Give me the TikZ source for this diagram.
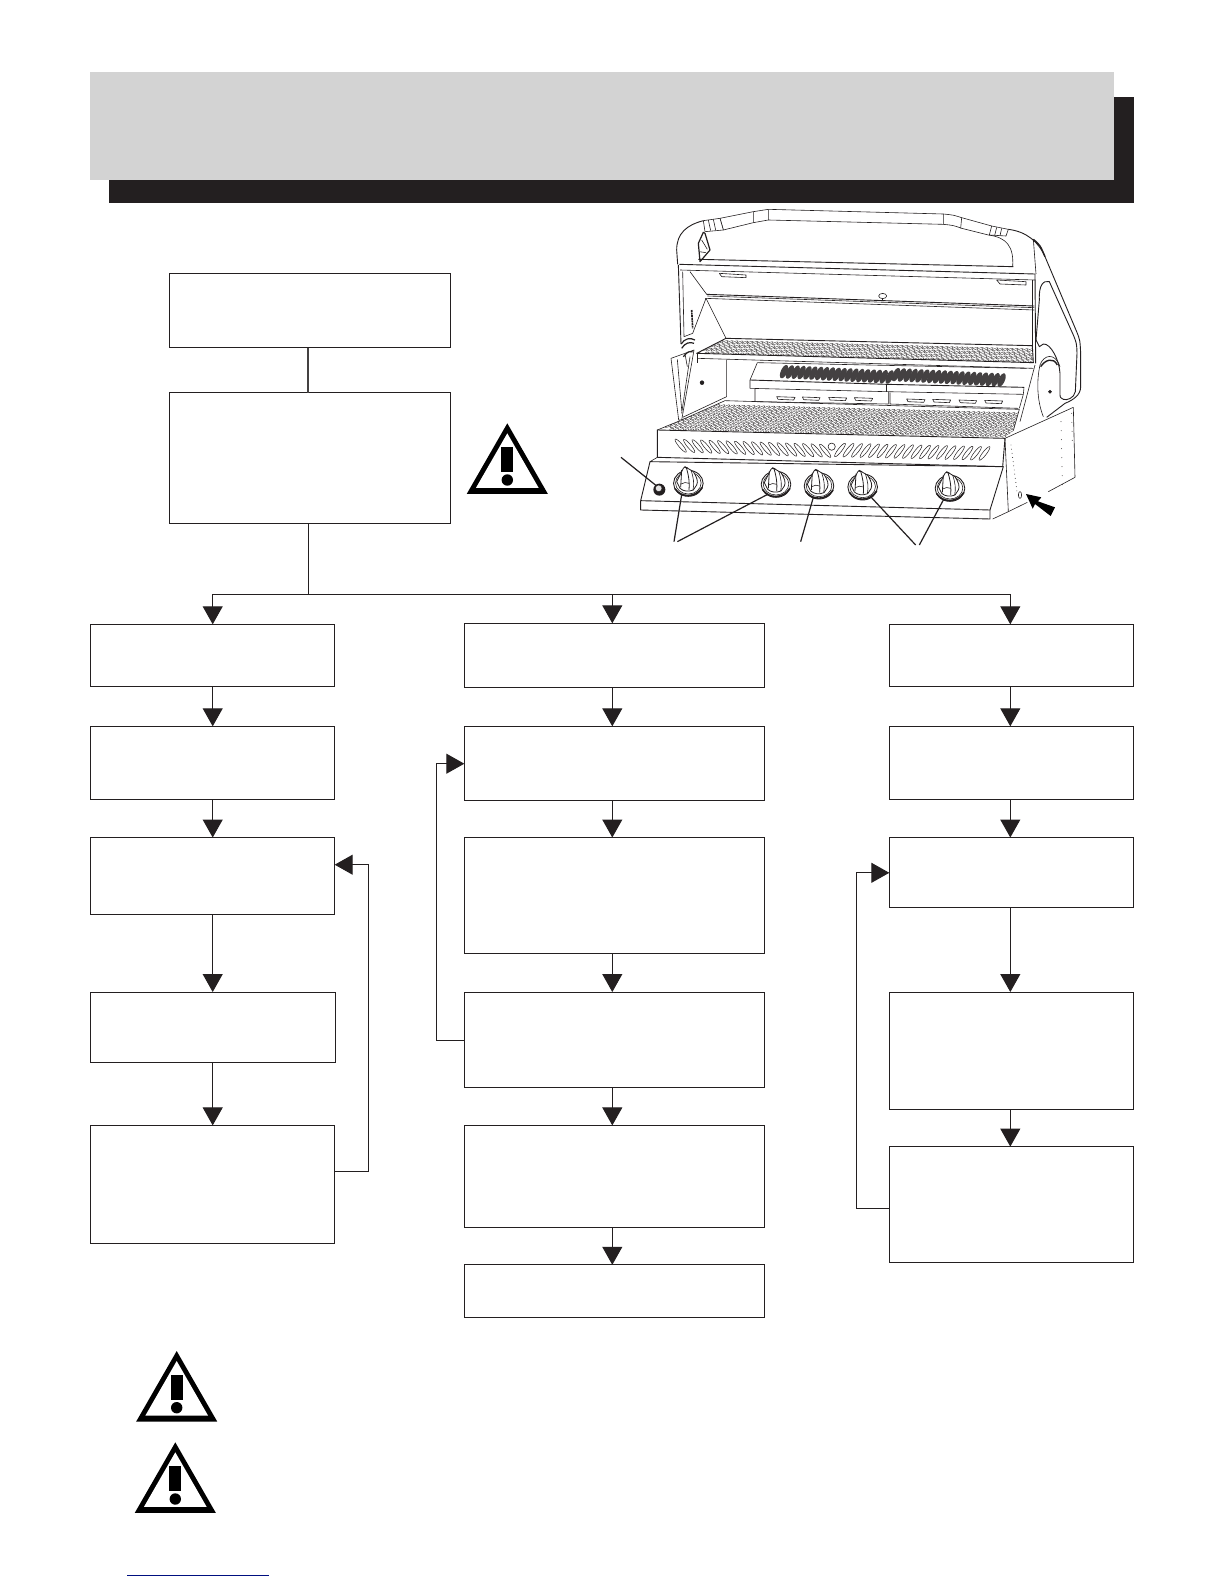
\documentclass[tikz,border=0pt]{standalone}
\usetikzlibrary{arrows.meta,calc}
\definecolor{ink}{HTML}{231F20}
\definecolor{headgray}{HTML}{D3D3D3}
\definecolor{linkblue}{HTML}{000F80}
\tikzset{
  flowbox/.style={draw=ink,line width=1pt,fill=white,inner sep=0pt,outer sep=0pt,anchor=north west},
  plainline/.style={draw=ink,line width=1pt},
  flow/.style={draw=ink,line width=1pt,-{Triangle[width=20pt,length=18pt,fill=ink]}},
  gl/.style={draw=ink,line width=0.6pt,line join=round},
  glf/.style={gl,fill=white},
  lead/.style={draw=ink,line width=1.2pt},
  pics/warnsign/.style={code={
    \fill[black] (0,0) -- (40.5,70.5) -- (-40.5,70.5) -- cycle;
    \fill[white] (0,10) -- (31.3,64.5) -- (-31.3,64.5) -- cycle;
    \fill[black] (-6,24) rectangle (6,49);
    \fill[black] (0,56.7) circle (5.7pt);
  }},
  pics/knobshape/.style={code={
    \draw[gl,line width=0.9pt,fill=white] (0,0) ellipse [x radius=14.8pt,y radius=13pt];
    \draw[gl,line width=0.6pt] (0,-1) ellipse [x radius=12.8pt,y radius=11pt];
    \draw[gl,line width=1.6pt] (-40,16) .. controls (-22,44) and (22,44) .. (42,12);
    \draw[glf,line width=0.8pt] (-10,-50) -- (15,-35) .. controls (26,-18) and (30,-5) .. (25,5) -- (15,20) .. controls (0,26) and (-15,24) .. (-25,15) -- (-35,-5) -- (-15,-45) -- cycle;
    \draw[gl,line width=0.8pt] (-20,-40) -- (-23,12);
    \draw[gl,line width=0.8pt] (-6,-47) .. controls (2,-20) and (4,0) .. (2,20);
    \draw[gl] (-22,2) .. controls (-14,-3) and (-6,-4) .. (2,0);
    \draw[gl] (8,-40) .. controls (16,-15) and (18,0) .. (14,20);
    \draw[gl,line width=1.1pt] (-12,-48) -- (-2,-46);
  }}
}
\newcommand{\fbx}[5]{%
  \pgfmathsetmacro\fbw{#4-#2}\pgfmathsetmacro\fbh{#5-#3}%
  \node[flowbox,minimum width=\fbw pt,minimum height=\fbh pt] (#1) at (#2,#3) {};}
\begin{document}
\begin{tikzpicture}[x=1pt,y=-1pt]
\useasboundingbox (0,0) rectangle (1224,1584);
\fill[white] (0,0) rectangle (1224,1584);
% header band
\fill[ink] (109,97) rectangle (1134,203);
\fill[headgray] (90,72) rectangle (1114,180);
% column guides
\coordinate (cA) at (308.3,0);
\coordinate (c1) at (212.7,0);
\coordinate (c2) at (612.3,0);
\coordinate (c3) at (1010.3,0);
% boxes
\fbx{top}{169.3}{273.2}{450.7}{347.5}
\fbx{mid}{169.3}{392.5}{450.7}{523.2}
\fbx{aa}{90.3}{624.3}{334.7}{686.7}
\fbx{ab}{90.3}{726.3}{334.7}{799}
\fbx{ac}{90.3}{837.5}{334.7}{914.2}
\fbx{ad}{90.3}{992}{335.7}{1062.7}
\fbx{ae}{90.3}{1125.4}{334.7}{1243.6}
\fbx{ba}{464.3}{623.3}{764.3}{687}
\fbx{bb}{464.3}{726.3}{764.3}{800}
\fbx{bc}{464.3}{837.5}{764.3}{953.6}
\fbx{bd}{464.3}{992}{764.3}{1087}
\fbx{be}{464.3}{1125.4}{764.3}{1227.4}
\fbx{bf}{464.3}{1264.8}{764.3}{1317.3}
\fbx{ca}{889.3}{624.3}{1133.7}{686.8}
\fbx{cb}{889.3}{726.3}{1133.7}{799}
\fbx{cc}{889.3}{837.5}{1133.7}{907.2}
\fbx{cd}{889.3}{992}{1133.7}{1109.2}
\fbx{ce}{889.3}{1146.6}{1133.7}{1262.8}
% connectors
\coordinate (busA) at (308.3,594.3);
\coordinate (busM) at (612.3,594.3);
\draw[plainline,line width=2pt,draw=ink!85] (top.south -| cA) -- (mid.north -| cA);
\draw[plainline] (mid.south -| cA) -- (busA);
\draw[flow] (busA) -| (aa.north -| c1);
\draw[flow] (busA) -| (ca.north -| c3);
\draw[flow] (busM) -- (ba.north -| c2);
\foreach \p/\q/\c in {aa/ab/c1,ab/ac/c1,ac/ad/c1,ad/ae/c1,ba/bb/c2,bb/bc/c2,bc/bd/c2,bd/be/c2,be/bf/c2,ca/cb/c3,cb/cc/c3,cc/cd/c3,cd/ce/c3}
  \draw[flow] (\p.south -| \c) -- (\q.north -| \c);
\coordinate (la1) at (368.3,1171.8);
\coordinate (la2) at (368.3,864.7);
\coordinate (lb1) at (436.3,1040.5);
\coordinate (lb2) at (436.3,763.7);
\coordinate (lc1) at (856.3,1208.2);
\coordinate (lc2) at (856.3,872.8);
\draw[flow] (ae.east |- la1) -- (la1) -- (la2) -- (ac.east |- la2);
\draw[flow] (bd.west |- lb1) -- (lb1) -- (lb2) -- (bb.west |- lb2);
\draw[flow] (ce.west |- lc1) -- (lc1) -- (lc2) -- (cc.west |- lc2);
% warning signs
\pic at (507.3,423.3) {warnsign};
\pic at (176.7,1351) {warnsign};
\pic at (175.3,1442.3) {warnsign};
% blue rule
\draw[linkblue,line width=1pt] (127,1575.3) -- (269,1575.3);
% grill, in 3x crop coordinates
\begin{scope}[shift={(600,200)},x=0.33333pt,y=-0.33333pt]
% handle
\draw[gl] (360,55) -- (460,35) .. controls (480,30) .. (505,28) -- (1030,42) .. controls (1060,45) .. (1085,53) -- (1175,78);
\draw[gl] (370,90) -- (460,68) .. controls (480,63) .. (505,60) -- (1030,73) .. controls (1060,76) .. (1085,85) -- (1165,105);
\draw[gl] (460,35) -- (460,68) (505,28) -- (505,60) (1030,42) -- (1030,73) (360,55) -- (370,90) (1085,53) -- (1082,85);
\draw[gl,fill=white] (310,62) -- (360,55) -- (370,90) -- (315,95) -- cycle;
\draw[gl] (325,60) -- (332,92) (340,58) -- (347,90);
\draw[gl,fill=white] (1175,78) -- (1225,88) -- (1218,108) -- (1168,105) -- cycle;
\draw[gl] (1190,82) -- (1184,106) (1205,85) -- (1200,107);
% arms
\draw[gl,line width=0.9pt] (310,62) .. controls (260,75) and (230,100) .. (230,150) -- (233,193);
\draw[gl,line width=1.2pt] (310,97) -- (295,130) -- (300,185) -- (330,150) -- (315,100) -- cycle;
\draw[gl] (305,120) -- (322,148) (298,155) -- (318,158);
\draw[gl,line width=0.9pt] (1225,88) .. controls (1280,95) and (1315,125) .. (1335,170) -- (1430,395) .. controls (1440,420) .. (1442,460) -- (1442,560) .. controls (1442,585) and (1420,600) .. (1395,610) -- (1340,652);
\draw[gl,line width=1.4pt] (1300,118) .. controls (1320,135) .. (1335,170);
\draw[gl] (1238,200) .. controls (1242,140) and (1220,112) .. (1165,105);
\draw[gl] (1300,118) -- (1308,222);
% side panel loop
\draw[gl,line width=0.9pt] (1318,300) .. controls (1316,255) and (1330,240) .. (1348,245) -- (1420,405) .. controls (1430,430) .. (1431,460) -- (1426,575) .. controls (1422,595) and (1400,602) .. (1390,598) .. controls (1380,592) .. (1380,580) -- (1380,520) .. controls (1378,480) and (1352,430) .. (1330,432) -- (1318,440) -- (1308,420) -- (1318,300);
\draw[gl] (1320,495) .. controls (1330,465) and (1365,455) .. (1380,500);
\draw[gl,line width=1.4pt] (1322,500) .. controls (1335,480) and (1360,470) .. (1372,495);
\draw[gl] (1320,495) .. controls (1310,540) and (1310,600) .. (1330,650);
\filldraw[ink] (1350,575) circle (1.6pt);
% lid underside
\draw[gl,line width=0.9pt] (295,178) -- (1240,200);
\draw[gl,line width=0.9pt] (238,193) -- (1305,222);
\draw[gl] (240,210) -- (1305,240);
\draw[gl,line width=0.9pt] (1305,222) -- (1307,490);
\draw[gl] (1297,240) -- (1297,437);
\draw[gl] (358,220) -- (438,225) -- (438,233) -- (365,230) -- cycle;
\draw[gl] (1190,240) -- (1278,245) -- (1278,255) -- (1200,252) -- cycle;
\draw[gl,line width=0.9pt] (320,283) -- (1303,318);
\draw[gl] (315,295) -- (1303,330);
\draw[gl] (322,288) -- (1303,323);
\draw[gl] (270,215) -- (320,283);
\draw[glf] (848,288) ellipse [x radius=4pt,y radius=2.6pt];
\draw[gl] (848,296) -- (848,300);
% left strip
\draw[gl,line width=0.9pt] (235,195) -- (243,432);
\draw[gl] (248,215) -- (252,410);
\draw[gl] (252,410) -- (278,400) -- (318,295);
\draw[gl] (318,295) -- (378,415);
\draw[ink,line width=1.6pt,dash pattern=on 2pt off 0.6pt] (275,330) -- (278,385);
\draw[gl,line width=1.2pt] (243,432) .. controls (255,415) and (270,412) .. (285,420);
\draw[gl,line width=1.2pt] (245,445) .. controls (255,428) and (270,425) .. (282,430);
% left flap
\draw[glf] (213,475) -- (255,460) -- (282,450) -- (245,660) -- (236,660) -- cycle;
\draw[gl,line width=1.2pt] (250,470) .. controls (262,455) and (270,452) .. (278,455);
\draw[gl] (232,478) -- (246,640) (270,470) -- (245,640) (255,462) -- (262,500);
\filldraw[ink] (306,548) circle (2pt);
% firebox left wall
\draw[gl] (380,480) -- (380,590) -- (248,652);
\draw[gl] (292,462) -- (292,488);
% warming rack
\begin{scope}
\clip (378,415) -- (1297,437) -- (1300,488) -- (290,460) -- cycle;
\foreach \r in {0,1,2,3} {
  \foreach \i in {0,...,66} {
    \pgfmathsetmacro\ux{300+\i*15+\r*6}
    \pgfmathsetmacro\uy{424+\r*12+(\ux-300)*0.027}
    \draw[ink,line width=0.3pt] (\ux,\uy) ellipse [x radius=3.4pt,y radius=0.9pt,rotate=22];
  }
}
\end{scope}
\draw[gl,line width=0.9pt] (378,415) -- (1297,437) -- (1300,488) -- (290,460) -- cycle;
\draw[gl] (292,475) -- (1300,505);
% burner hood
\draw[gl] (472,488) -- (1280,505);
\draw[gl] (472,488) -- (450,540);
\foreach \i in {0,...,18} {
  \pgfmathsetmacro\ux{552+\i*17.6}
  \pgfmathsetmacro\uy{515+\i*0.9}
  \fill[ink!85,rotate around={66:(\ux,\uy)}] (\ux,\uy) ellipse [x radius=7.2pt,y radius=3.2pt];
}
\foreach \i in {0,...,18} {
  \pgfmathsetmacro\ux{888+\i*17.6}
  \pgfmathsetmacro\uy{524+\i*0.9}
  \fill[ink!85,rotate around={66:(\ux,\uy)}] (\ux,\uy) ellipse [x radius=7.2pt,y radius=3.2pt];
}
\draw[gl,line width=0.9pt] (450,540) -- (860,553) -- (1272,562);
\draw[gl] (450,540) -- (450,565) -- (860,575) -- (1270,583) -- (1272,562);
\draw[gl] (860,553) -- (860,575);
\draw[gl] (465,567) -- (465,605) -- (865,612) -- (865,576);
\draw[gl] (870,578) -- (870,612) -- (1255,625);
\draw[gl] (1270,583) -- (1258,625);
\foreach \a/\b/\v in {530/585/590,607/660/591,686/740/592,763/818/593,920/975/597,998/1052/598,1077/1130/600,1154/1208/601}
  \draw[gl] (\a,\v) -- (\b,\v+2) -- (\b-4,\v+10) -- (\a+4,\v+8) -- cycle;
% main grate
\begin{scope}
\clip (175,688) -- (375,605) -- (1258,628) -- (1240,692) -- (1215,712) -- cycle;
\foreach \r in {0,...,7} {
  \foreach \i in {0,...,75} {
    \pgfmathsetmacro\ux{170+\i*15+\r*7}
    \pgfmathsetmacro\uy{614+\r*12.5+(\ux-170)*0.027}
    \draw[ink,line width=0.3pt] (\ux,\uy) ellipse [x radius=3.6pt,y radius=1pt,rotate=25];
  }
}
\end{scope}
\draw[gl] (245,660) -- (375,602) -- (1258,628);
\draw[gl] (1258,628) -- (1240,692);
\draw[gl] (1305,495) -- (1260,665);
% front bar
\draw[glf,line width=0.9pt] (172,690) -- (1215,715) -- (1208,800) -- (172,772) -- cycle;
\draw[gl] (172,690) -- (240,662);
\draw[gl] (1215,715) -- (1420,622);
\foreach \i in {0,...,17} {
  \pgfmathsetmacro\ux{242+\i*25.5}
  \pgfmathsetmacro\uy{737+\i*0.9}
  \draw[gl,line width=0.5pt] (\ux,\uy) ellipse [x radius=8.5pt,y radius=1.9pt,rotate=-50];
}
\draw[gl] (695,740) circle (3.6pt);
\foreach \i in {0,...,17} {
  \pgfmathsetmacro\ux{720+\i*25.5}
  \pgfmathsetmacro\uy{750+\i*0.6}
  \draw[gl,line width=0.5pt] (\ux,\uy) ellipse [x radius=8.5pt,y radius=1.9pt,rotate=52];
}
% control panel
\draw[glf,line width=0.9pt] (150,785) -- (1210,800) -- (1170,930) -- (122,902) -- cycle;
\draw[gl,line width=0.9pt] (122,902) -- (122,930) -- (1170,957) -- (1170,930);
\draw[gl] (172,772) -- (150,785);
% right side box
\draw[gl] (1215,715) -- (1225,935);
\draw[gl] (1178,957) -- (1225,935) -- (1282,907);
\draw[gl] (1345,875) -- (1425,832) -- (1420,622);
\foreach \k in {0,...,11} \fill[ink] (1233+\k*1.6,735+\k*12.5) circle (0.45pt);
\foreach \k in {0,...,7} \fill[ink] (1383+\k*0.6,665+\k*27) circle (0.45pt);
\foreach \k in {0,...,3} \fill[ink] (1415+\k*0.6,640+\k*27) circle (0.45pt);
\draw[gl] (1260,885) ellipse [x radius=1.6pt,y radius=3.4pt];
% black pointer
\fill[black] (1278,882) -- (1324,892) -- (1314,904) -- (1365,922) -- (1352,948) -- (1305,912) -- (1298,926) -- cycle;
% knobs
\pic at (265,850) {knobshape};
\pic at (528,853) {knobshape};
\pic at (657,858) {knobshape};
\pic at (788,861) {knobshape};
\pic at (1050,865) {knobshape};
% igniter button
\fill[ink] (178,869) circle (6pt);
\filldraw[draw=ink,fill=ink!12,line width=0.4pt] (176,865) circle (3.3pt);
% leads
\draw[lead] (63,772) -- (170,858);
\draw[lead] (245,884) -- (222,1025);
\draw[lead] (505,882) -- (232,1025);
\draw[lead] (640,892) -- (602,1025);
\draw[lead] (810,888) -- (947,1035);
\draw[lead] (1030,900) -- (958,1035);
\end{scope}
\end{tikzpicture}
\end{document}
